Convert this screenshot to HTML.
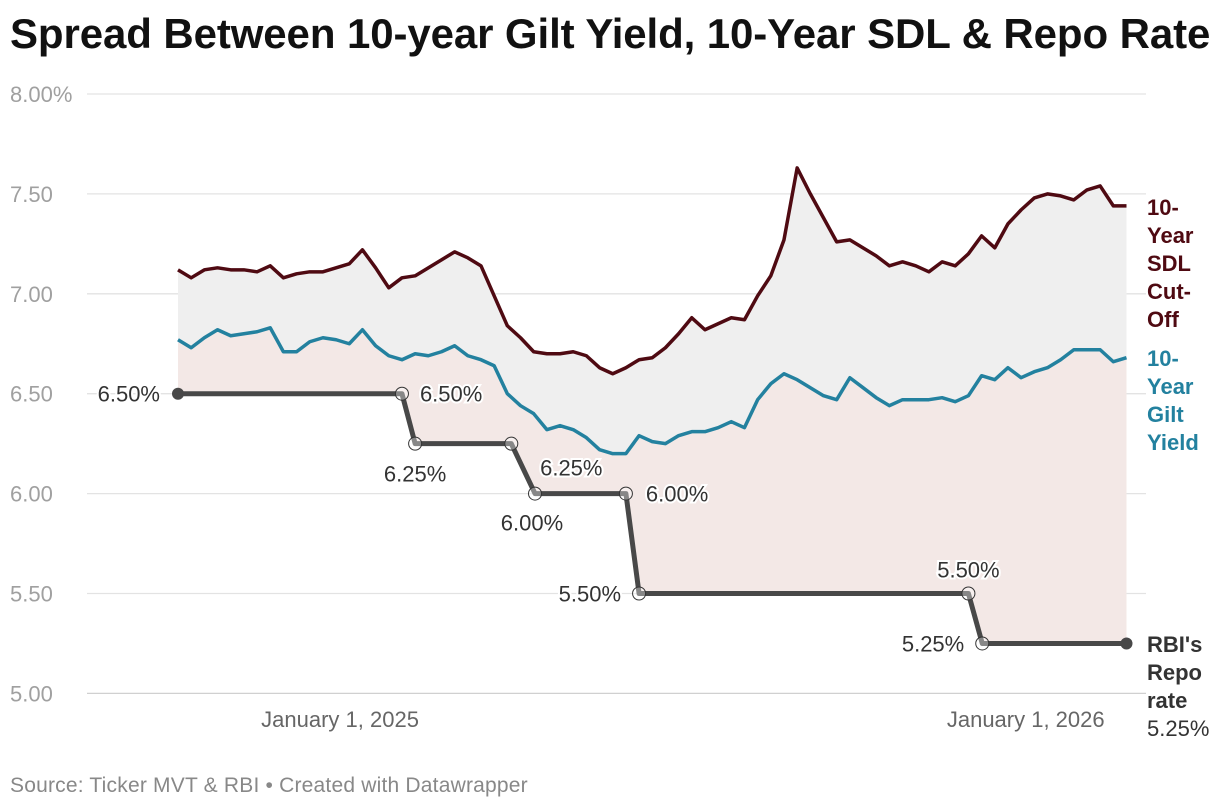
<!DOCTYPE html>
<html><head><meta charset="utf-8"><style>
body{margin:0;background:#fff;font-family:"Liberation Sans",sans-serif;}
#wrap{position:relative;width:1220px;height:810px;overflow:hidden;}
h1{position:absolute;left:10px;top:10px;margin:0;font-size:42px;font-weight:bold;color:#111;letter-spacing:-0.1px;white-space:nowrap;}
#src{position:absolute;left:10px;top:774px;font-size:21px;color:#888;letter-spacing:0.2px;}
</style></head><body>
<div id="wrap">
<h1>Spread Between 10-year Gilt Yield, 10-Year SDL &amp; Repo Rate</h1>
<svg id="chart" width="1220" height="810" style="position:absolute;left:0;top:0"></svg>
<div id="src">Source: Ticker MVT &amp; RBI • Created with Datawrapper</div>
</div>
<script>
const sdlValues=[7.12,7.08,7.12,7.13,7.12,7.12,7.11,7.14,7.08,7.10,7.11,7.11,7.13,7.15,7.22,7.13,7.03,7.08,7.09,7.13,7.17,7.21,7.18,7.14,6.99,6.84,6.78,6.71,6.70,6.70,6.71,6.69,6.63,6.60,6.63,6.67,6.68,6.73,6.80,6.88,6.82,6.85,6.88,6.87,6.99,7.09,7.27,7.63,7.50,7.38,7.26,7.27,7.23,7.19,7.14,7.16,7.14,7.11,7.16,7.14,7.20,7.29,7.23,7.35,7.42,7.48,7.50,7.49,7.47,7.52,7.54,7.44,7.44];
const giltValues=[6.77,6.73,6.78,6.82,6.79,6.80,6.81,6.83,6.71,6.71,6.76,6.78,6.77,6.75,6.82,6.74,6.69,6.67,6.70,6.69,6.71,6.74,6.69,6.67,6.64,6.50,6.44,6.40,6.32,6.34,6.32,6.28,6.22,6.20,6.20,6.29,6.26,6.25,6.29,6.31,6.31,6.33,6.36,6.33,6.47,6.55,6.60,6.57,6.53,6.49,6.47,6.58,6.53,6.48,6.44,6.47,6.47,6.47,6.48,6.46,6.49,6.59,6.57,6.63,6.58,6.61,6.63,6.67,6.72,6.72,6.72,6.66,6.68];
const repoWeeks=[0,17,18,25.3,27.1,34,35,60,61.05,72];
const repoValues=[6.50,6.50,6.25,6.25,6.00,6.00,5.50,5.50,5.25,5.25];
const repoLabels=["6.50%","6.50%","6.25%","6.25%","6.00%","6.00%","5.50%","5.50%","5.25%",""];
const yTicks=[8,7.5,7,6.5,6,5.5,5];
const yTickLabels=["8.00%","7.50","7.00","6.50","6.00","5.50","5.00"];
const xTickWeeks=[12.15,64.2];
const xTickLabels=["January 1, 2025","January 1, 2026"];

const NS="http://www.w3.org/2000/svg";
const svg=document.getElementById('chart');
const X0=178,X1=1126.5,NW=72;
const x=w=>X0+(X1-X0)*w/NW;
const y=v=>94+(8-v)*199.8;
function mk(t,a,p){const e=document.createElementNS(NS,t);for(const k in a)e.setAttribute(k,a[k]);(p||svg).appendChild(e);return e;}
yTicks.forEach((v,i)=>{
  const l=mk('line',{x1:87,x2:1146,y1:y(v),y2:y(v),stroke:i==yTicks.length-1?'#d0d0d0':'#e3e3e3','stroke-width':1.3});
  
  
  const t=mk('text',{x:10,y:y(v)+8,fill:'#a0a0a0','font-size':22});
  t.textContent=yTickLabels[i];
  
  
});
xTickWeeks.forEach((w,i)=>{
  const t=mk('text',{x:x(w)+2,y:727,fill:'#666','font-size':22,'text-anchor':'middle'});
  t.textContent=xTickLabels[i];
  
  
});
function repoAt(w){for(let i=0;i<repoWeeks.length-1;i++){if(w<=repoWeeks[i+1]){const f=(w-repoWeeks[i])/(repoWeeks[i+1]-repoWeeks[i]);return repoValues[i]+f*(repoValues[i+1]-repoValues[i]);}}return repoValues[repoValues.length-1];}
let d='M'+sdlValues.map((v,i)=>x(i)+','+y(v)).join('L');
for(let i=giltValues.length-1;i>=0;i--)d+='L'+x(i)+','+y(giltValues[i]);
const a1=mk('path',{d:d+'Z',fill:'#efefef'});


const ws=[];for(let i=0;i<=NW;i++)ws.push(i);repoWeeks.forEach(w=>ws.push(w));ws.sort((a,b)=>b-a);
d='M'+giltValues.map((v,i)=>x(i)+','+y(v)).join('L');
ws.forEach(w=>{d+='L'+x(w)+','+y(repoAt(w));});
const a2=mk('path',{d:d+'Z',fill:'#f3e8e6'});


const l1=mk('polyline',{points:sdlValues.map((v,i)=>x(i)+','+y(v)).join(' '),fill:'none',stroke:'#4f0a12','stroke-width':3.5,'stroke-linejoin':'round'});


const l2=mk('polyline',{points:giltValues.map((v,i)=>x(i)+','+y(v)).join(' '),fill:'none',stroke:'#23819f','stroke-width':3.5,'stroke-linejoin':'round'});


const l3=mk('polyline',{points:repoWeeks.map((w,i)=>x(w)+','+y(repoValues[i])).join(' '),fill:'none',stroke:'#484848','stroke-width':5,'stroke-linejoin':'round'});


repoWeeks.forEach((w,i)=>{
  const end=(i==0||i==repoWeeks.length-1);
  const c=mk('circle',{cx:x(w),cy:y(repoValues[i]),r:end?6:6.5,fill:end?'#484848':'rgba(255,255,255,0.35)',stroke:end?'none':'#333','stroke-width':1});
  
  
});
const lblPos=[[-18,8,'end'],[18,8,'start'],[0,38,'middle'],[60,32,'middle'],[-3,37,'middle'],[20,8,'start'],[-18,8,'end'],[0,-16,'middle'],[-18,8,'end']];
repoLabels.forEach((s,i)=>{
  if(!s)return;
  const p=lblPos[i];
  const t=mk('text',{x:x(repoWeeks[i])+p[0],y:y(repoValues[i])+p[1],'text-anchor':p[2],fill:'#333','font-size':22,stroke:'#fff','stroke-width':4,'paint-order':'stroke'});
  t.textContent=s;
  
  
});
function block(lines,y0,color,name){
  const g=mk('g',{});
  
  
  lines.forEach((s,i)=>{const t=mk('text',{x:1147,y:y0+i*28,fill:color,'font-size':22,'font-weight':'bold'},g);t.textContent=s;});
}
block(["10-","Year","SDL","Cut-","Off"],215,'#4f0a12','sdl-series-label');
block(["10-","Year","Gilt","Yield"],366,'#23819f','gilt-series-label');
block(["RBI's","Repo","rate"],652,'#333','repo-series-label');
const rv=mk('text',{x:1147,y:736,fill:'#333','font-size':22});
rv.textContent="5.25%";


</script>
</body></html>
